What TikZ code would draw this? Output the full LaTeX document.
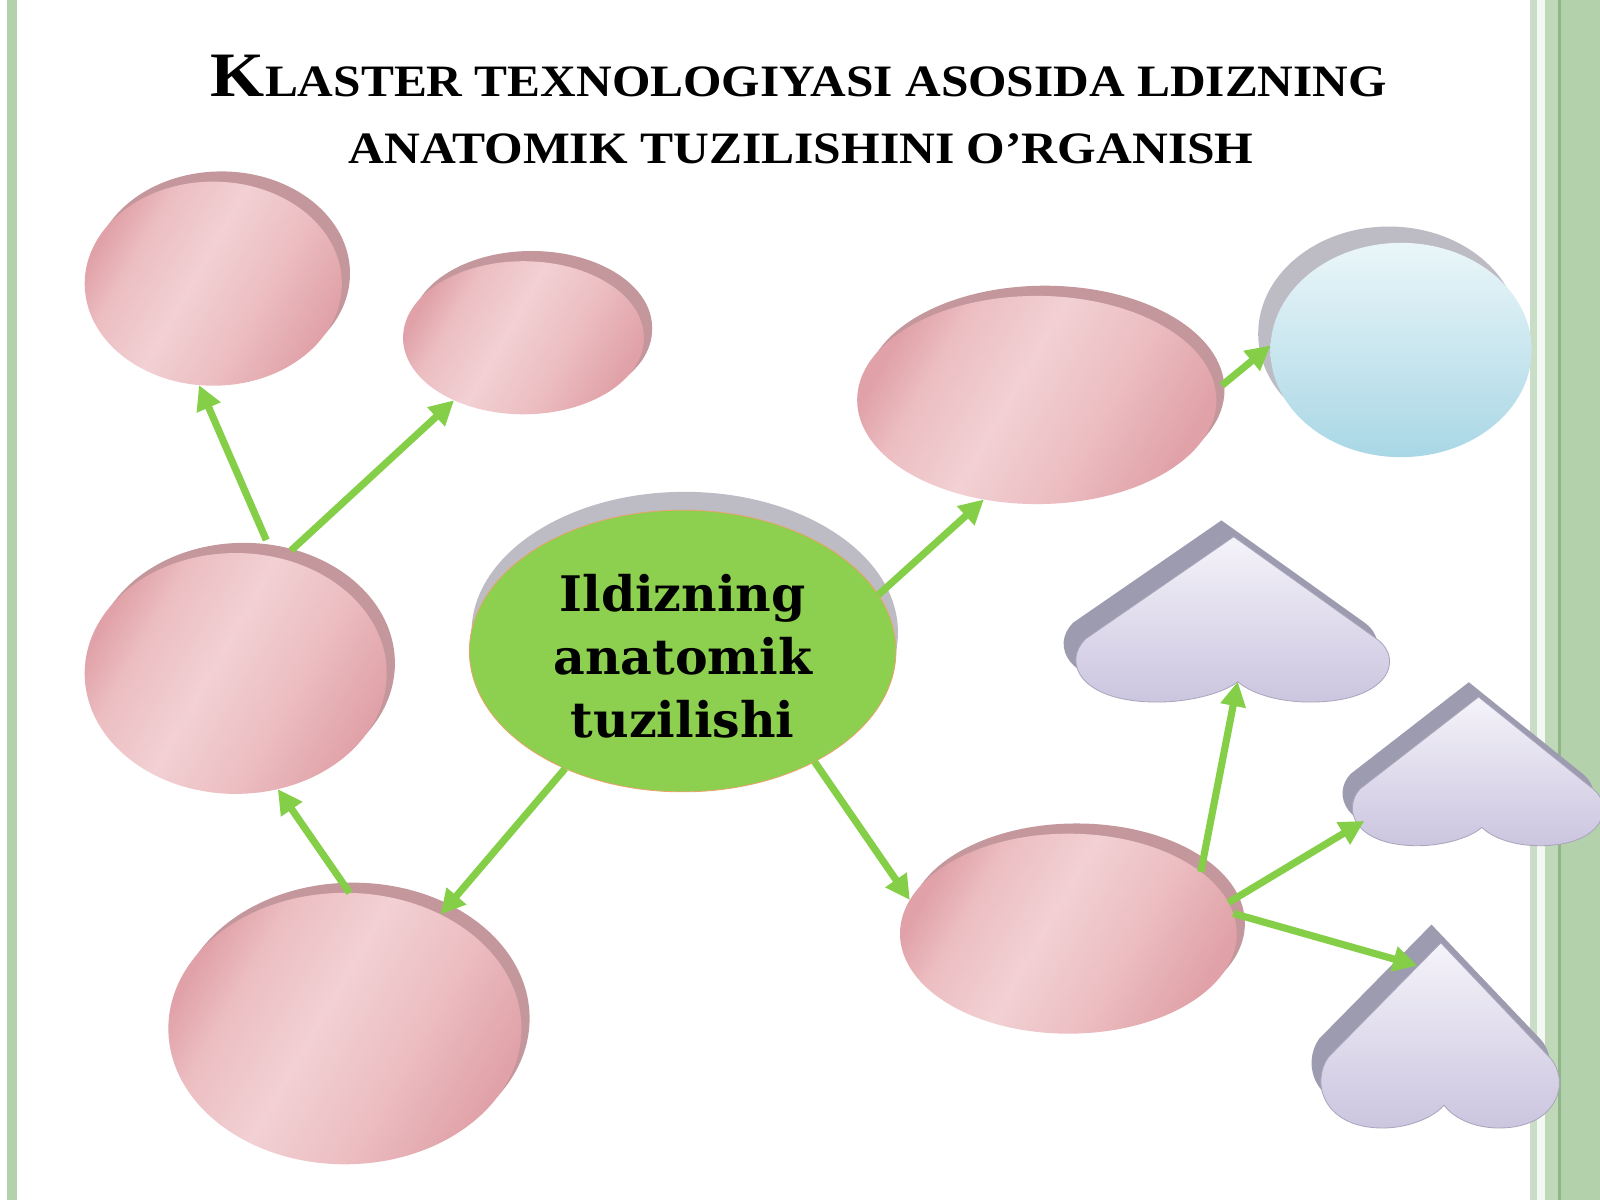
\documentclass[tikz,border=0pt]{standalone}
\usepackage{fontspec}
\setmainfont{Liberation Serif}
\newfontfamily\ctrfont{DejaVu Serif}
\usetikzlibrary{shapes.geometric,arrows.meta,shadows}

\definecolor{pinkD}{HTML}{E0A2A8}
\definecolor{pinkM}{HTML}{ECBEC2}
\definecolor{pinkL}{HTML}{F2D0D3}
\definecolor{pinkRim}{HTML}{C4979C}
\definecolor{greenFace}{HTML}{8DCF4F}
\definecolor{greenEdge}{HTML}{E7A46A}
\definecolor{grayRim}{HTML}{BDBCC4}
\definecolor{blueL}{HTML}{EAF6F9}
\definecolor{blueD}{HTML}{A9D7E5}
\definecolor{heartL}{HTML}{F5F3FA}
\definecolor{heartD}{HTML}{CBC5DF}
\definecolor{heartRim}{HTML}{9D9BB0}
\definecolor{heartEdge}{HTML}{A9A6BC}
\definecolor{arrowGreen}{HTML}{84CF47}
\definecolor{borderGreen}{HTML}{B3D1AB}
\definecolor{borderLight}{HTML}{CADDC6}
\definecolor{borderDark}{HTML}{8FB588}

\pgfdeclarehorizontalshading{pinkshade}{100bp}{color(0bp)=(pinkD); color(25bp)=(pinkD); color(33bp)=(pinkM); color(46bp)=(pinkL); color(60bp)=(pinkM); color(75bp)=(pinkD); color(100bp)=(pinkD)}

\newcommand\hrtpath{(0,0) -- (140,100) .. controls (168,120) and (152,162) .. (75,162) .. controls (40,162) and (15,152) .. (4,142) .. controls (-8,152) and (-40,162) .. (-75,162) .. controls (-152,162) and (-168,122) .. (-145,100) -- cycle}

\tikzset{
  disc/.style={ellipse, inner sep=0pt, outer sep=0pt, shading=pinkshade, shading angle=-30,
     general shadow={fill=pinkRim, shadow xshift=4pt, shadow yshift=5pt}},
  arr/.style={draw=arrowGreen, line width=3.5pt, -{Triangle[length=12pt,width=12pt]}},
  heart/.pic={
    \fill[heartRim, shift={(-12,-16)}] \hrtpath;
    \shade[top color=heartL, bottom color=heartD, draw=heartEdge, line width=0.4pt] \hrtpath;
    \coordinate (-notch) at (4,142);
    \coordinate (-left) at (-140,135);
    \coordinate (-edge) at (-30,20);
  }
}

\begin{document}
\begin{tikzpicture}[x=0.5pt,y=-0.5pt]
\useasboundingbox (0,0) rectangle (1568,1176);
\fill[white] (0,0) rectangle (1568,1176);
% borders
\fill[borderGreen] (7,0) rectangle (17,1176);
\fill[borderLight] (1499,0) rectangle (1506,1176);
\fill[white!85!borderGreen] (1506,0) rectangle (1514,1176);
\fill[borderGreen!85!white] (1514,0) rectangle (1527,1176);
\fill[borderDark] (1527,0) rectangle (1530,1176);
\fill[borderGreen] (1530,0) rectangle (1568,1176);

% title
\node[anchor=base, inner sep=0pt] (t1) at (783,95)
  {\bfseries\scalebox{1.10}[1]{\fontsize{31}{31}\selectfont K\fontsize{22}{22}\selectfont LASTER TEXNOLOGIYASI ASOSIDA LDIZNING}};
\node[anchor=base, inner sep=0pt] (t2) at (785,160)
  {\bfseries\scalebox{1.105}[1]{\fontsize{22}{22}\selectfont ANATOMIK TUZILISHINI O’RGANISH}};

% pink discs
\node[disc, minimum width=126pt, minimum height=100pt] (tl) at (209,278) {};
\node[disc, minimum width=118pt, minimum height=75pt, general shadow={fill=pinkRim, shadow xshift=4pt, shadow yshift=4pt}] (tm) at (513,331) {};
\node[disc, minimum width=148pt, minimum height=118pt] (ml) at (231,660) {};
\node[disc, minimum width=173pt, minimum height=133pt] (bl) at (338,1008) {};
\node[disc, minimum width=176pt, minimum height=102pt] (tr) at (1016,392) {};
\node[disc, minimum width=165pt, minimum height=98pt] (br) at (1047,915) {};

% blue disc
\node[ellipse, inner sep=0pt, outer sep=0pt, minimum width=128pt, minimum height=105pt,
  top color=blueL, bottom color=blueD,
  general shadow={fill=grayRim, shadow xshift=-6pt, shadow yshift=8pt}] (bu) at (1373,343) {};

% center
\node[ellipse, inner sep=0pt, outer sep=0pt, minimum width=209pt, minimum height=138pt,
  fill=greenFace, draw=greenEdge, line width=0.4pt,
  general shadow={fill=grayRim, shadow xshift=1pt, shadow yshift=9pt}] (c) at (669,638) {};
\node[align=center, inner sep=0pt, text=black,
  font=\ctrfont\bfseries\fontsize{24}{31}\selectfont] (ct) at (669,643)
  {Ildizning\\anatomik\\tuzilishi};

% hearts
\pic (h1) at (1209,526) {heart};
\pic[xscale=0.8, yscale=0.9] (h2) at (1449,683) {heart};
\pic[xscale=0.76, yscale=1.12] (h3) at (1412,924) {heart};

% arrows
\draw[arr, shorten <=9pt] (ml.72) -- (tl.262);
\draw[arr, shorten <=6pt] (ml.68) -- (tm.222);
\draw[arr] (bl.88) -- (ml.290);
\draw[arr] (c.225) -- (bl.50);
\draw[arr] (c.16) -- (tr.242);
\draw[arr] (c.320) -- (br.168);
\draw[arr, shorten <=4pt] (tr.3) -- (bu.178);
\draw[arr] (br.25) -- (h1-notch);
\draw[arr] (br.11) -- (h2-left);
\draw[arr] (br.7) -- (h3-edge);
\end{tikzpicture}
\end{document}
